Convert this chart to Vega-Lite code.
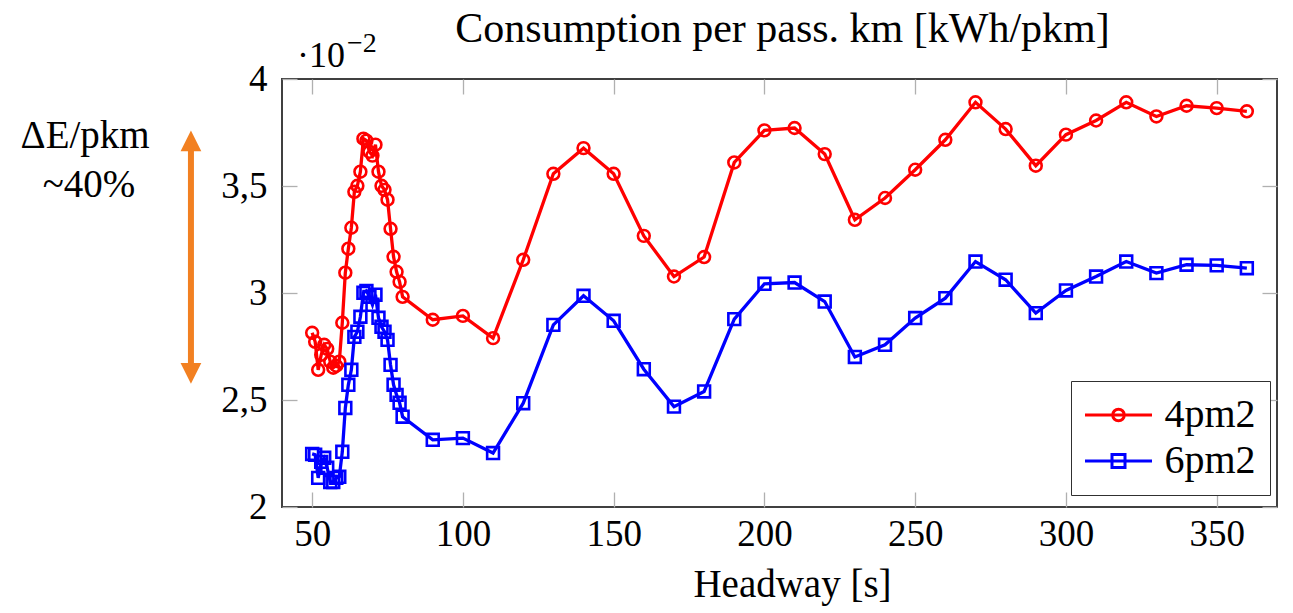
{
  "$schema": "https://vega.github.io/schema/vega-lite/v6.json",
  "width": 995,
  "height": 428,
  "autosize": {"type": "none"},
  "padding": {"left": 282, "top": 79, "right": 16, "bottom": 106},
  "background": "white",
  "title": {
    "text": "Consumption per pass. km [kWh/pkm]",
    "font": "Liberation Serif",
    "fontSize": 42,
    "fontWeight": "normal",
    "color": "#000000",
    "anchor": "middle",
    "frame": "group",
    "baseline": "alphabetic",
    "offset": -54,
    "dx": 3
  },
  "datasets": {
    "series": [
      {"headway": 50, "4pm2": 0.02814, "6pm2": 0.02248},
      {"headway": 51, "4pm2": 0.02772, "6pm2": 0.02244},
      {"headway": 52, "4pm2": 0.02641, "6pm2": 0.02136},
      {"headway": 53, "4pm2": 0.02711, "6pm2": 0.02211},
      {"headway": 54, "4pm2": 0.02758, "6pm2": 0.0223},
      {"headway": 55, "4pm2": 0.02739, "6pm2": 0.02183},
      {"headway": 56, "4pm2": 0.02679, "6pm2": 0.02117},
      {"headway": 57, "4pm2": 0.02651, "6pm2": 0.02117},
      {"headway": 58, "4pm2": 0.0266, "6pm2": 0.02136},
      {"headway": 59, "4pm2": 0.02679, "6pm2": 0.02141},
      {"headway": 60, "4pm2": 0.02861, "6pm2": 0.02258},
      {"headway": 61, "4pm2": 0.03095, "6pm2": 0.02463},
      {"headway": 62, "4pm2": 0.03207, "6pm2": 0.02571},
      {"headway": 63, "4pm2": 0.03305, "6pm2": 0.02641},
      {"headway": 64, "4pm2": 0.03473, "6pm2": 0.02795},
      {"headway": 65, "4pm2": 0.03501, "6pm2": 0.02819},
      {"headway": 66, "4pm2": 0.03567, "6pm2": 0.02889},
      {"headway": 67, "4pm2": 0.03721, "6pm2": 0.03001},
      {"headway": 68, "4pm2": 0.03712, "6pm2": 0.0301},
      {"headway": 69, "4pm2": 0.0366, "6pm2": 0.02982},
      {"headway": 70, "4pm2": 0.03642, "6pm2": 0.02945},
      {"headway": 71, "4pm2": 0.03693, "6pm2": 0.02992},
      {"headway": 72, "4pm2": 0.03567, "6pm2": 0.02884},
      {"headway": 73, "4pm2": 0.03501, "6pm2": 0.02842},
      {"headway": 74, "4pm2": 0.03482, "6pm2": 0.02819},
      {"headway": 75, "4pm2": 0.03436, "6pm2": 0.02781},
      {"headway": 76, "4pm2": 0.033, "6pm2": 0.02664},
      {"headway": 77, "4pm2": 0.03169, "6pm2": 0.02571},
      {"headway": 78, "4pm2": 0.03099, "6pm2": 0.02524},
      {"headway": 79, "4pm2": 0.03052, "6pm2": 0.02487},
      {"headway": 80, "4pm2": 0.02982, "6pm2": 0.02422},
      {"headway": 90, "4pm2": 0.02875, "6pm2": 0.02314},
      {"headway": 100, "4pm2": 0.02893, "6pm2": 0.02322},
      {"headway": 110, "4pm2": 0.02789, "6pm2": 0.02252},
      {"headway": 120, "4pm2": 0.03155, "6pm2": 0.02485},
      {"headway": 130, "4pm2": 0.03557, "6pm2": 0.02851},
      {"headway": 140, "4pm2": 0.03677, "6pm2": 0.02987},
      {"headway": 150, "4pm2": 0.03557, "6pm2": 0.0287},
      {"headway": 160, "4pm2": 0.03267, "6pm2": 0.02644},
      {"headway": 170, "4pm2": 0.03077, "6pm2": 0.02469},
      {"headway": 180, "4pm2": 0.03168, "6pm2": 0.0254},
      {"headway": 190, "4pm2": 0.0361, "6pm2": 0.02878},
      {"headway": 200, "4pm2": 0.0376, "6pm2": 0.03043},
      {"headway": 210, "4pm2": 0.03771, "6pm2": 0.03049},
      {"headway": 220, "4pm2": 0.03649, "6pm2": 0.0296},
      {"headway": 230, "4pm2": 0.03342, "6pm2": 0.02701},
      {"headway": 240, "4pm2": 0.03444, "6pm2": 0.02758},
      {"headway": 250, "4pm2": 0.03576, "6pm2": 0.02883},
      {"headway": 260, "4pm2": 0.03716, "6pm2": 0.02976},
      {"headway": 270, "4pm2": 0.03891, "6pm2": 0.03147},
      {"headway": 280, "4pm2": 0.03766, "6pm2": 0.03062},
      {"headway": 290, "4pm2": 0.03595, "6pm2": 0.02906},
      {"headway": 300, "4pm2": 0.0374, "6pm2": 0.03012},
      {"headway": 310, "4pm2": 0.03806, "6pm2": 0.03077},
      {"headway": 320, "4pm2": 0.03891, "6pm2": 0.03147},
      {"headway": 330, "4pm2": 0.03825, "6pm2": 0.03093},
      {"headway": 340, "4pm2": 0.03875, "6pm2": 0.03132},
      {"headway": 350, "4pm2": 0.03864, "6pm2": 0.03129},
      {"headway": 360, "4pm2": 0.03849, "6pm2": 0.03116}
    ],
    "arrow": [
      {"x": 9.8, "top": 0.03711, "bottom": 0.02624}
    ],
    "notes": [
      {"note": "ΔE/pkm", "x": -25.3, "y": 0.03679},
      {"note": "~40%", "x": -24.0, "y": 0.0345},
      {"note": "·10", "x": 44.98, "y": 0.040575},
      {"note": "−2", "x": 61.56, "y": 0.041276}
    ]
  },
  "resolve": {"axis": {"x": "independent", "y": "independent"}},
  "layer": [
    {
      "data": {"name": "series"},
      "transform": [{"fold": ["4pm2", "6pm2"], "as": ["scenario", "consumption"]}],
      "mark": {"type": "line", "strokeWidth": 3.3},
      "encoding": {
        "x": {
          "field": "headway", "type": "quantitative",
          "scale": {"domain": [40, 370], "nice": false, "zero": false},
          "axis": {
            "orient": "bottom",
            "values": [50, 100, 150, 200, 250, 300, 350],
            "domain": false, "grid": false,
            "tickSize": -15, "tickColor": "#b0b0b0", "tickWidth": 1.3,
            "labelFont": "Liberation Serif", "labelFontSize": 37, "labelColor": "#000000",
            "labelPadding": 24,
            "title": "Headway [s]",
            "titleFont": "Liberation Serif", "titleFontSize": 39, "titleFontWeight": "normal",
            "titleColor": "#000000", "titleX": 510, "titleY": 89,
            "titleBaseline": "alphabetic", "titleAlign": "center"
          }
        },
        "y": {
          "field": "consumption", "type": "quantitative",
          "scale": {"domain": [0.02, 0.04], "nice": false, "zero": false},
          "axis": {
            "orient": "left",
            "values": [0.02, 0.025, 0.03, 0.035, 0.04],
            "labelExpr": "replace(format(datum.value*100, '~g'), '.', ',')",
            "domain": false, "grid": false,
            "tickSize": -15, "tickColor": "#b0b0b0", "tickWidth": 1.3,
            "labelFont": "Liberation Serif", "labelFontSize": 37, "labelColor": "#000000",
            "labelPadding": 30,
            "title": null
          }
        },
        "color": {
          "field": "scenario", "type": "nominal",
          "scale": {"domain": ["4pm2", "6pm2"], "range": ["#ff0000", "#0000ff"]},
          "legend": {
            "orient": "none", "legendX": 789, "legendY": 302,
            "title": null,
            "strokeColor": "#303030",
            "fillColor": "#ffffff",
            "padding": 14,
            "rowPadding": 6,
            "labelFont": "Liberation Serif", "labelFontSize": 40, "labelColor": "#000000",
            "labelOffset": 26,
            "symbolOffset": 13.5,
            "symbolSize": 400,
            "symbolStrokeWidth": 3,
            "symbolFillColor": "transparent",
            "symbolType": {"expr": "datum.value === '4pm2' ? 'M-3.35,0L3.35,0M0.58,0A0.58,0.58,0,1,1,-0.58,0A0.58,0.58,0,1,1,0.58,0' : 'M-3.35,0L3.35,0M-0.65,-0.65L0.65,-0.65L0.65,0.65L-0.65,0.65Z'"},
            "labelExpr": "datum.label + '\u00a0\u00a0\u00a0\u00a0\u00a0'"
          }
        }
      }
    },
    {
      "data": {"name": "series"},
      "transform": [
        {"fold": ["4pm2", "6pm2"], "as": ["scenario", "consumption"]},
        {"filter": "datum.scenario === '4pm2'"}
      ],
      "mark": {"type": "point", "shape": "circle", "filled": false, "size": 140, "strokeWidth": 2.6, "opacity": 1},
      "encoding": {
        "x": {
          "field": "headway", "type": "quantitative",
          "scale": {"domain": [40, 370], "nice": false, "zero": false},
          "axis": {
            "orient": "top",
            "values": [50, 100, 150, 200, 250, 300, 350],
            "domain": false, "grid": false, "labels": false, "title": null,
            "tickSize": -15, "tickColor": "#b0b0b0", "tickWidth": 1.3
          }
        },
        "y": {
          "field": "consumption", "type": "quantitative",
          "scale": {"domain": [0.02, 0.04], "nice": false, "zero": false},
          "axis": {
            "orient": "right",
            "values": [0.02, 0.025, 0.03, 0.035, 0.04],
            "domain": false, "grid": false, "labels": false, "title": null,
            "tickSize": -15, "tickColor": "#b0b0b0", "tickWidth": 1.3
          }
        },
        "color": {"field": "scenario", "type": "nominal", "legend": null}
      }
    },
    {
      "data": {"name": "series"},
      "transform": [
        {"fold": ["4pm2", "6pm2"], "as": ["scenario", "consumption"]},
        {"filter": "datum.scenario === '6pm2'"}
      ],
      "mark": {"type": "point", "shape": "square", "filled": false, "size": 140, "strokeWidth": 2.6, "opacity": 1},
      "encoding": {
        "x": {"field": "headway", "type": "quantitative", "axis": null},
        "y": {"field": "consumption", "type": "quantitative", "axis": null},
        "color": {"field": "scenario", "type": "nominal", "legend": null}
      }
    },
    {
      "data": {"name": "arrow"},
      "mark": {"type": "rule", "color": "#f28021", "strokeWidth": 6},
      "encoding": {
        "x": {"field": "x", "type": "quantitative", "axis": null},
        "y": {"field": "top", "type": "quantitative", "axis": null},
        "y2": {"field": "bottom"}
      }
    },
    {
      "data": {"name": "arrow"},
      "mark": {"type": "point", "shape": "M0,-1L1,1L-1,1Z", "filled": true, "color": "#f28021", "size": 430, "opacity": 1},
      "encoding": {
        "x": {"field": "x", "type": "quantitative", "axis": null},
        "y": {"field": "top", "type": "quantitative", "axis": null}
      }
    },
    {
      "data": {"name": "arrow"},
      "mark": {"type": "point", "shape": "M0,1L1,-1L-1,-1Z", "filled": true, "color": "#f28021", "size": 430, "opacity": 1},
      "encoding": {
        "x": {"field": "x", "type": "quantitative", "axis": null},
        "y": {"field": "bottom", "type": "quantitative", "axis": null}
      }
    },
    {
      "data": {"name": "notes"},
      "transform": [{"filter": "datum.note === 'ΔE/pkm' || datum.note === '~40%'"}],
      "mark": {"type": "text", "font": "Liberation Serif", "fontSize": 39, "color": "#000000", "align": "center", "baseline": "alphabetic"},
      "encoding": {
        "x": {"field": "x", "type": "quantitative", "axis": null},
        "y": {"field": "y", "type": "quantitative", "axis": null},
        "text": {"field": "note"}
      }
    },
    {
      "data": {"name": "notes"},
      "transform": [{"filter": "datum.note === '·10'"}],
      "mark": {"type": "text", "font": "Liberation Serif", "fontSize": 36, "color": "#000000", "align": "left", "baseline": "alphabetic"},
      "encoding": {
        "x": {"field": "x", "type": "quantitative", "axis": null},
        "y": {"field": "y", "type": "quantitative", "axis": null},
        "text": {"field": "note"}
      }
    },
    {
      "data": {"name": "notes"},
      "transform": [{"filter": "datum.note === '−2'"}],
      "mark": {"type": "text", "font": "Liberation Serif", "fontSize": 28, "color": "#000000", "align": "left", "baseline": "alphabetic"},
      "encoding": {
        "x": {"field": "x", "type": "quantitative", "axis": null},
        "y": {"field": "y", "type": "quantitative", "axis": null},
        "text": {"field": "note"}
      }
    }
  ],
  "config": {
    "view": {"stroke": "#404040", "strokeWidth": 2},
    "font": "Liberation Serif"
  }
}
